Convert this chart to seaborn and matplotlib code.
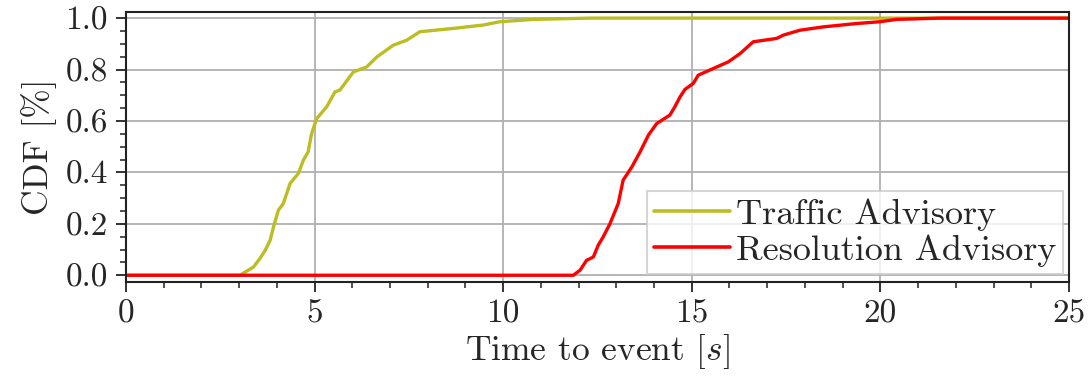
import numpy as np
import pandas as pd
import matplotlib
matplotlib.use("Agg")
import matplotlib.pyplot as plt
import seaborn as sns
from matplotlib.ticker import MultipleLocator

# Data (time in s, CDF value)
ta_time = [0, 3.02, 3.38, 3.55, 3.69, 3.82, 3.91, 4.04, 4.17, 4.35, 4.57, 4.70, 4.83, 4.92,
           5.06, 5.32, 5.54, 5.67, 6.03, 6.38, 6.65, 7.09, 7.44, 7.79, 8.68, 9.47, 9.91,
           10.8, 12.3, 25]
ta_cdf = [0, 0, 0.032, 0.065, 0.097, 0.136, 0.188, 0.253, 0.279, 0.357, 0.396, 0.447, 0.48,
          0.551, 0.61, 0.655, 0.713, 0.72, 0.791, 0.81, 0.849, 0.895, 0.914, 0.947, 0.96,
          0.973, 0.986, 0.995, 1.0, 1.0]
ra_time = [0, 11.86, 12.04, 12.21, 12.39, 12.52, 12.65, 12.83, 13.05, 13.18, 13.41, 13.63,
           13.85, 14.07, 14.42, 14.55, 14.69, 14.82, 15.04, 15.17, 15.57, 15.97, 16.28, 16.63,
           17.25, 17.43, 17.87, 18.49, 19.37, 19.99, 20.43, 21.58, 25]
ra_cdf = [0, 0, 0.02, 0.058, 0.071, 0.117, 0.149, 0.2, 0.279, 0.37, 0.421, 0.48, 0.545, 0.59,
          0.623, 0.655, 0.694, 0.723, 0.746, 0.778, 0.804, 0.83, 0.862, 0.908, 0.921, 0.934,
          0.953, 0.966, 0.979, 0.986, 0.995, 1.0, 1.0]
labels = ["Traffic Advisory", "Resolution Advisory"]
colors = ["#bcbd22", "#ff0000"]
x_ticks = [0, 5, 10, 15, 20, 25]
y_ticks = [0.0, 0.2, 0.4, 0.6, 0.8, 1.0]

df = pd.concat([
    pd.DataFrame({"time": ta_time, "cdf": ta_cdf, "event": labels[0]}),
    pd.DataFrame({"time": ra_time, "cdf": ra_cdf, "event": labels[1]}),
], ignore_index=True)

sns.set_style("white")
plt.rcParams["font.family"] = ["cmr10", "DejaVu Serif"]
plt.rcParams["mathtext.fontset"] = "cm"
plt.rcParams["axes.formatter.use_mathtext"] = True
plt.rcParams["axes.unicode_minus"] = False

fig = plt.figure(figsize=(10.9, 3.82), dpi=100)
ax = fig.add_axes([0.1156, 0.2626, 0.8651, 0.7068])

sns.lineplot(data=df, x="time", y="cdf", hue="event", palette=dict(zip(labels, colors)),
             linewidth=2.4, ax=ax, estimator=None, sort=False)

ax.set_xlim(0, 25)
ax.set_ylim(-0.025, 1.025)
ax.set_xticks(x_ticks)
ax.set_yticks(y_ticks)
ax.set_xticklabels([str(t) for t in x_ticks])
ax.set_yticklabels([f"{v:.1f}" for v in y_ticks])
ax.xaxis.set_minor_locator(MultipleLocator(1))
ax.yaxis.set_minor_locator(MultipleLocator(0.05))
ax.tick_params(axis="both", which="major", direction="out", length=7, width=1.3,
               labelsize=24, color="#222222", bottom=True, left=True, pad=6)
ax.tick_params(axis="both", which="minor", direction="out", length=4, width=1.1,
               color="#222222", bottom=True, left=True)
ax.grid(True, which="major", color="#b0b0b0", linewidth=1.3)
ax.set_axisbelow(True)
for s in ax.spines.values():
    s.set_visible(True)
    s.set_color("#222222")
    s.set_linewidth(1.5)

ax.set_xlabel("Time to event $[s]$", fontsize=25.5, labelpad=2)
ax.set_ylabel("CDF [%]", fontsize=25.5, labelpad=6)

leg = ax.legend(loc="lower right", bbox_to_anchor=(0.994, 0.0285), borderaxespad=0,
                fontsize=26, frameon=True, fancybox=False, handlelength=2.1,
                handletextpad=0.15, labelspacing=0.1, borderpad=0.2)
leg.get_frame().set_edgecolor("#cccccc")
leg.get_frame().set_linewidth(1.5)
for h in leg.get_lines():
    h.set_linewidth(2.6)

fig.savefig("out.png", dpi=100)
